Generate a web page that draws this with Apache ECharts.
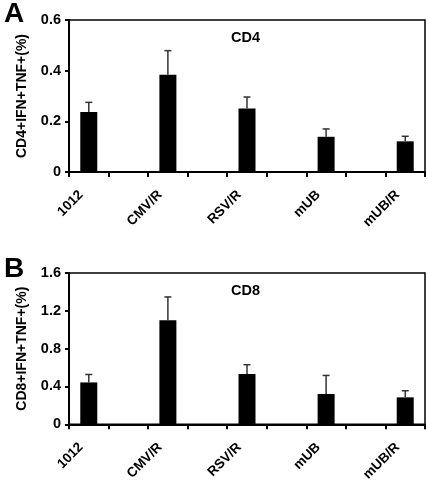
<!DOCTYPE html>
<html>
<head>
<meta charset="utf-8">
<script src="https://cdn.jsdelivr.net/npm/echarts@6/dist/echarts.min.js"></script>
<style>
html,body{margin:0;padding:0;background:#fff;}
#c{width:428px;height:484px;}
</style>
</head>
<body>
<div id="c"></div>
<script>
// categories (empty slots between groups)
const categories = ['1012', '', 'CMV/R', '', 'RSV/R', '', 'mUB', '', 'mUB/R'];
// Panel A: CD4
const cd4Values = [0.237, null, 0.384, null, 0.251, null, 0.139, null, 0.121];
const cd4Errors = [0.038, null, 0.095, null, 0.045, null, 0.031, null, 0.020];
// Panel B: CD8
const cd8Values = [0.443, null, 1.101, null, 0.532, null, 0.321, null, 0.285];
const cd8Errors = [0.084, null, 0.246, null, 0.098, null, 0.196, null, 0.070];
const cd4Ticks = [0, 0.2, 0.4, 0.6];
const cd8Ticks = [0, 0.4, 0.8, 1.2, 1.6];

const FONT = 'Liberation Sans, Arial, sans-serif';

function errData(vals, errs) {
  const out = [];
  vals.forEach((v, i) => { if (v != null) out.push([i, v, v + errs[i]]); });
  return out;
}

function errSeries(idx, vals, errs) {
  return {
    type: 'custom',
    xAxisIndex: idx, yAxisIndex: idx,
    z: 5,
    data: errData(vals, errs),
    renderItem: function (params, api) {
      const x = api.value(0);
      const lo = api.coord([x, api.value(1)]);
      const hi = api.coord([x, api.value(2)]);
      const cap = 3.5;
      const st = { stroke: '#333', lineWidth: 1.5 };
      return {
        type: 'group',
        children: [
          { type: 'line', shape: { x1: lo[0], y1: lo[1], x2: hi[0], y2: hi[1] }, style: st },
          { type: 'line', shape: { x1: hi[0] - cap, y1: hi[1], x2: hi[0] + cap, y2: hi[1] }, style: st }
        ]
      };
    }
  };
}

function xAxis(idx) {
  return {
    type: 'category', gridIndex: idx, data: categories, boundaryGap: true,
    axisLine: { lineStyle: { color: '#000', width: 2 } },
    axisTick: { show: true, interval: 0, length: 5, inside: false, lineStyle: { color: '#000', width: 2 } },
    axisLabel: { interval: 0, rotate: 45, margin: 13, padding: [0, 11, 0, 0], color: '#000', fontWeight: 'bold', fontSize: 13.5, fontFamily: FONT }
  };
}

function yAxis(idx, name, ticks) {
  const iv = ticks[1] - ticks[0];
  return {
    type: 'value', gridIndex: idx, min: ticks[0], max: ticks[ticks.length - 1], interval: iv,
    name: name, nameLocation: 'middle', nameGap: 40, nameRotate: 90,
    nameTextStyle: { color: '#000', fontWeight: 'bold', fontSize: 14, fontFamily: FONT },
    axisLine: { show: true, lineStyle: { color: '#000', width: 2 } },
    axisTick: { show: true, length: 4, lineStyle: { color: '#000', width: 2 } },
    splitLine: { show: false },
    axisLabel: { color: '#000', fontWeight: 'bold', fontSize: 14.5, fontFamily: FONT, margin: 8,
      formatter: v => (v === 0 ? '0' : String(+v.toFixed(1))) }
  };
}

const chart = echarts.init(document.getElementById('c'), null, { renderer: 'canvas' });
chart.setOption({
  animation: false,
  backgroundColor: '#fff',
  title: [
    { text: 'A', left: -1, top: -5, textStyle: { fontSize: 28, fontWeight: 'bold', color: '#000', fontFamily: FONT } },
    { text: 'B', left: -1, top: 250, textStyle: { fontSize: 28, fontWeight: 'bold', color: '#000', fontFamily: FONT } },
    { text: 'CD4', left: 226, top: 25, textStyle: { fontSize: 14.5, fontWeight: 'bold', color: '#000', fontFamily: FONT } },
    { text: 'CD8', left: 226, top: 278, textStyle: { fontSize: 14.5, fontWeight: 'bold', color: '#000', fontFamily: FONT } }
  ],
  grid: [
    { left: 69, right: 3, top: 20, height: 152, show: true, borderColor: '#000', borderWidth: 1.5, backgroundColor: 'transparent' },
    { left: 69, right: 3, top: 273, height: 152, show: true, borderColor: '#000', borderWidth: 1.5, backgroundColor: 'transparent' }
  ],
  xAxis: [xAxis(0), xAxis(1)],
  yAxis: [yAxis(0, 'CD4+IFN+TNF+(%)', cd4Ticks), yAxis(1, 'CD8+IFN+TNF+(%)', cd8Ticks)],
  series: [
    { type: 'bar', xAxisIndex: 0, yAxisIndex: 0, data: cd4Values, barWidth: 17, itemStyle: { color: '#000' } },
    errSeries(0, cd4Values, cd4Errors),
    { type: 'bar', xAxisIndex: 1, yAxisIndex: 1, data: cd8Values, barWidth: 17, itemStyle: { color: '#000' } },
    errSeries(1, cd8Values, cd8Errors)
  ]
});
</script>
</body>
</html>
